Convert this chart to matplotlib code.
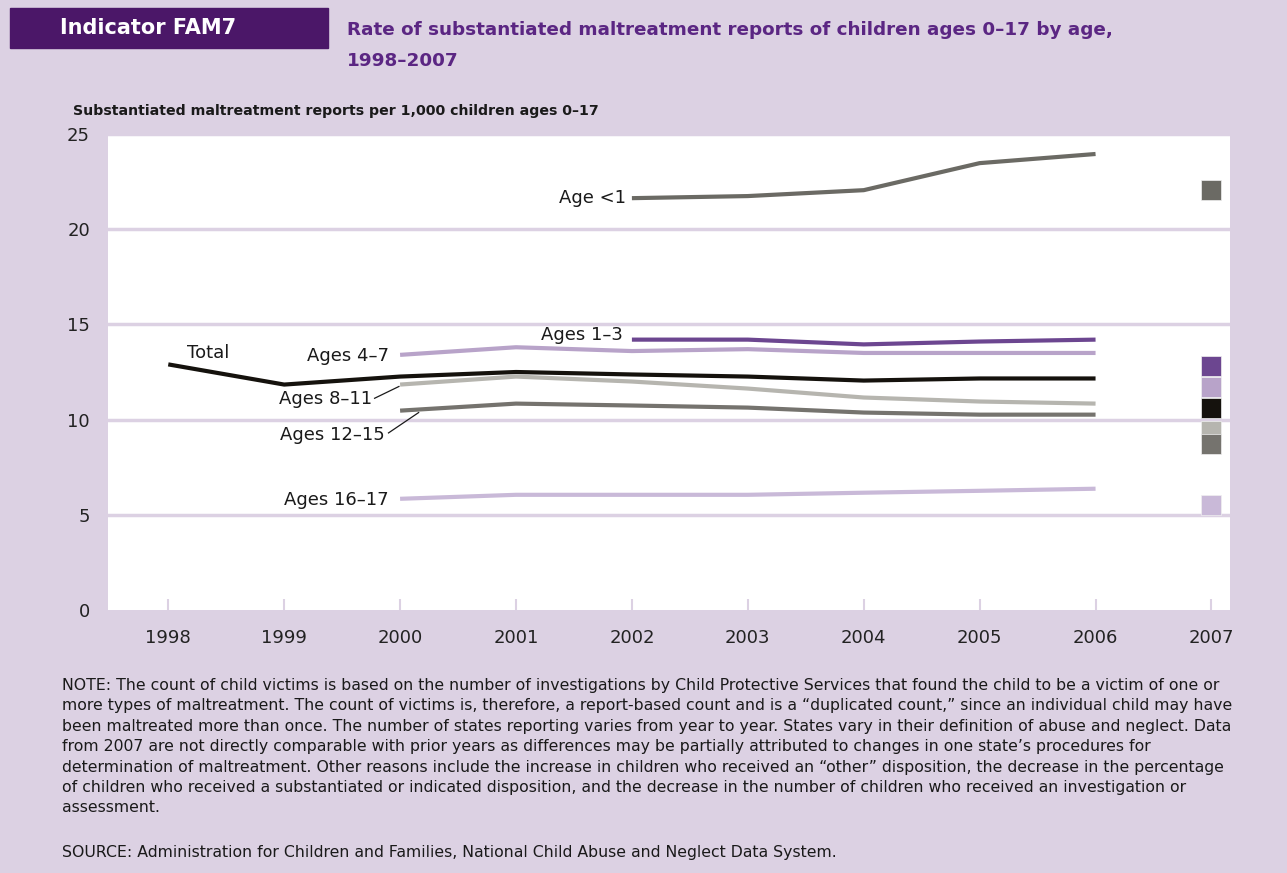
import matplotlib
matplotlib.use("Agg")
import matplotlib.pyplot as plt
import numpy as np

years = [1998, 1999, 2000, 2001, 2002, 2003, 2004, 2005, 2006]
total = [12.9, 11.84, 12.26, 12.5, 12.37, 12.26, 12.05, 12.16, 12.16]
age_lt1 = [None, None, None, None, 21.63, 21.74, 22.05, 23.47, 23.95]
ages_1_3 = [None, None, None, None, 14.2, 14.2, 13.95, 14.1, 14.2]
ages_4_7 = [None, None, 13.4, 13.8, 13.6, 13.7, 13.5, 13.5, 13.5]
ages_8_11 = [None, None, 11.84, 12.26, 12.0, 11.63, 11.16, 10.95, 10.84]
ages_12_15 = [None, None, 10.47, 10.84, 10.74, 10.63, 10.37, 10.26, 10.26]
ages_16_17 = [None, None, 5.84, 6.05, 6.05, 6.05, 6.16, 6.26, 6.37]

year_2007 = 2007
vals_2007 = {"Age <1": 22.05, "Ages 1–3": 12.8, "Ages 4–7": 11.7, "Total": 10.6,
             "Ages 8–11": 9.4, "Ages 12–15": 8.7, "Ages 16–17": 5.5}

xticks = list(range(1998, 2008))
yticks = [0, 5, 10, 15, 20, 25]

BG = "#dcd1e3"
colors = {"Age <1": "#6b6a64", "Ages 1–3": "#6c4690", "Ages 4–7": "#b8a3c9",
          "Total": "#15120d", "Ages 8–11": "#b6b5af", "Ages 12–15": "#75736e",
          "Ages 16–17": "#c9b9d8"}

series = [("Ages 16–17", ages_16_17), ("Ages 12–15", ages_12_15), ("Ages 8–11", ages_8_11),
          ("Ages 4–7", ages_4_7), ("Ages 1–3", ages_1_3), ("Age <1", age_lt1), ("Total", total)]

fig = plt.figure(figsize=(12.87, 8.73), dpi=100, facecolor=BG)
ax = fig.add_axes([108/1287, 1-610/873, (1230-108)/1287, (610-134)/873])
ax.set_facecolor("white")
ax.set_xlim(1997.48, 2007.16)
ax.set_ylim(0, 25)
for s in ax.spines.values():
    s.set_visible(False)
for y in yticks[1:]:
    ax.axhline(y, color=BG, lw=2.5, zorder=1)
ax.set_yticks(yticks)
ax.set_yticklabels([str(t) for t in yticks], fontsize=13, color="#222222")
ax.set_xticks(xticks)
ax.set_xticklabels([str(t) for t in xticks], fontsize=13, color="#222222")
ax.tick_params(axis="y", length=0, pad=13)
ax.tick_params(axis="x", direction="in", length=8, width=1.5, color=BG, pad=14)

for name, vals in series:
    xs = [x for x, v in zip(years, vals) if v is not None]
    ys = [v for v in vals if v is not None]
    ax.plot(xs, ys, color=colors[name], lw=3, solid_capstyle="butt", zorder=3)

for name in ["Age <1", "Ages 16–17", "Total", "Ages 4–7", "Ages 1–3", "Ages 8–11", "Ages 12–15"]:
    ax.plot([year_2007], [vals_2007[name]], marker="s", ms=14, color=colors[name],
            mec="#f0f0f0", mew=0.5, ls="none", zorder=4, clip_on=False)

lab = dict(fontsize=13, color="#1a1a1a")
ax.text(2001.95, 21.63, "Age <1", ha="right", va="center", **lab)
ax.text(2001.92, 14.45, "Ages 1–3", ha="right", va="center", **lab)
ax.text(1999.9, 13.35, "Ages 4–7", ha="right", va="center", **lab)
ax.text(1998.16, 13.5, "Total", ha="left", va="center", **lab)
ax.text(1999.76, 11.1, "Ages 8–11", ha="right", va="center", **lab)
ax.text(1999.87, 9.2, "Ages 12–15", ha="right", va="center", **lab)
ax.text(1999.9, 5.8, "Ages 16–17", ha="right", va="center", **lab)
ax.plot([1999.78, 1999.99], [11.12, 11.74], color="#1a1a1a", lw=0.9, zorder=3)
ax.plot([1999.9, 2000.16], [9.3, 10.37], color="#1a1a1a", lw=0.9, zorder=3)

# header
fig.patches.append(matplotlib.patches.Rectangle((10/1287, 1-48/873), 318/1287, 40/873,
                   transform=fig.transFigure, color="#4b1768", zorder=0))
fig.text(60/1287, 1-28/873, "Indicator FAM7", fontsize=15, fontweight="bold",
         color="white", va="center", ha="left")
fig.text(347/1287, 1-30/873, "Rate of substantiated maltreatment reports of children ages 0–17 by age,",
         fontsize=13.2, fontweight="bold", color="#5b2683", va="center", ha="left")
fig.text(347/1287, 1-61/873, "1998–2007", fontsize=13.2, fontweight="bold",
         color="#5b2683", va="center", ha="left")
fig.text(73/1287, 1-111/873, "Substantiated maltreatment reports per 1,000 children ages 0–17",
         fontsize=10.2, fontweight="bold", color="#1a1a1a", va="center", ha="left")

note = ("NOTE: The count of child victims is based on the number of investigations by Child Protective Services that found the child to be a victim of one or\n"
        "more types of maltreatment. The count of victims is, therefore, a report-based count and is a “duplicated count,” since an individual child may have\n"
        "been maltreated more than once. The number of states reporting varies from year to year. States vary in their definition of abuse and neglect. Data\n"
        "from 2007 are not directly comparable with prior years as differences may be partially attributed to changes in one state’s procedures for\n"
        "determination of maltreatment. Other reasons include the increase in children who received an “other” disposition, the decrease in the percentage\n"
        "of children who received a substantiated or indicated disposition, and the decrease in the number of children who received an investigation or\n"
        "assessment.")
fig.text(62/1287, 1-678/873, note, fontsize=11.3, color="#1a1a1a", va="top", ha="left",
         linespacing=1.45)
fig.text(62/1287, 1-853/873, "SOURCE: Administration for Children and Families, National Child Abuse and Neglect Data System.",
         fontsize=11.3, color="#1a1a1a", va="center", ha="left")

fig.savefig("out.png", dpi=100, facecolor=BG)
